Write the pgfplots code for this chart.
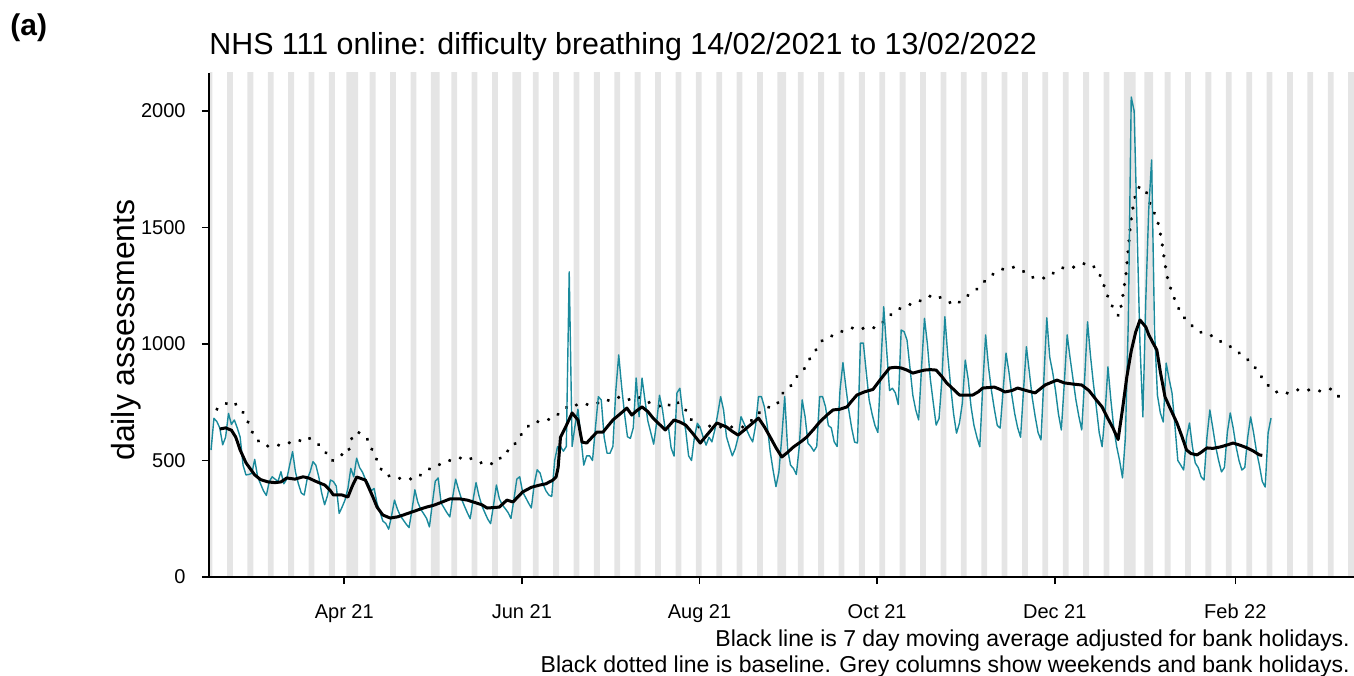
\documentclass[border=0pt]{standalone}
\usepackage{fontspec}
\setmainfont{Liberation Sans}
\usepackage{pgfplots}
\pgfplotsset{compat=1.18}

\definecolor{dailyteal}{HTML}{1A8A9C}
\definecolor{wkend}{HTML}{E5E5E5}

\begin{document}
\begin{tikzpicture}
\useasboundingbox (-104.5bp,-49.5bp) rectangle (572.5bp,288.5bp);
\begin{axis}[
    at={(0,0)}, anchor=south west,
    width=572.5bp, height=252bp, scale only axis,
    xmin=-0.7, xmax=392.5, ymin=0, ymax=2163,
    axis x line*=bottom, axis y line*=left,
    axis line style={-, line width=1bp, black},
    axis on top,
    tick align=outside, major tick length=3.5bp,
    tick style={black, line width=0.8bp},
    xtick={45.75,106.75,167.75,228.75,289.75,351.75},
    xticklabels={Apr 21,Jun 21,Aug 21,Oct 21,Dec 21,Feb 22},
    ytick={0,500,1000,1500,2000},
    yticklabels={0,500,1000,1500,2000},
    xticklabel style={font=\fontsize{10bp}{12bp}\selectfont, anchor=base, yshift=-17bp, inner sep=0pt},
    yticklabel style={font=\fontsize{10bp}{12bp}\selectfont, anchor=east, xshift=-8bp, inner sep=0pt},
    clip=true,
]
% weekends and bank holidays
\addplot[ybar, bar width=1, fill=wkend, draw=none] coordinates {
(0,2200)(6,2200)(7,2200)(13,2200)(14,2200)(20,2200)(21,2200)(27,2200)(28,2200)(34,2200)(35,2200)
(41,2200)(42,2200)(47,2200)(48,2200)(49,2200)(50,2200)(55,2200)(56,2200)(62,2200)(63,2200)
(69,2200)(70,2200)(76,2200)(77,2200)(78,2200)(83,2200)(84,2200)(90,2200)(91,2200)(97,2200)(98,2200)
(104,2200)(105,2200)(106,2200)(111,2200)(112,2200)(118,2200)(119,2200)(125,2200)(126,2200)
(132,2200)(133,2200)(139,2200)(140,2200)(146,2200)(147,2200)(153,2200)(154,2200)(160,2200)(161,2200)
(167,2200)(168,2200)(174,2200)(175,2200)(181,2200)(182,2200)(188,2200)(189,2200)(195,2200)(196,2200)
(197,2200)(202,2200)(203,2200)(209,2200)(210,2200)(216,2200)(217,2200)(223,2200)(224,2200)
(230,2200)(231,2200)(237,2200)(238,2200)(244,2200)(245,2200)(251,2200)(252,2200)(258,2200)(259,2200)
(265,2200)(266,2200)(272,2200)(273,2200)(279,2200)(280,2200)(286,2200)(287,2200)(293,2200)(294,2200)
(300,2200)(301,2200)(307,2200)(308,2200)(314,2200)(315,2200)(316,2200)(317,2200)(321,2200)(322,2200)
(323,2200)(328,2200)(329,2200)(335,2200)(336,2200)(342,2200)(343,2200)(349,2200)(350,2200)
(356,2200)(357,2200)(363,2200)(364,2200)(370,2200)(371,2200)(377,2200)(378,2200)(384,2200)(385,2200)
(391,2200)(392,2200)
};
% baseline
\addplot[black, line width=1.7bp, line cap=round, dash pattern=on 0.1bp off 5.4bp, mark=none] coordinates {
(2,720)(3,725)(6.5,755)(9,738)(11.7,695)(15,597)(18.5,562)(22,562)(26,575)(29.5,579)(33,601)
(36.4,575)(39,541)(41.5,498)(44.3,524)(47,528)(48.7,614)(51,620)(54,588)(55.6,536)(57.3,494)
(59,446)(62,429)(66,421)(70,421)(73.5,451)(76,472)(80,489)(83,506)(88,515)(91,498)(94.8,481)
(98.5,494)(100.6,536)(103,545)(105,584)(107,620)(110,661)(113.6,670)(117.4,680)(120.5,712)
(123.6,742)(127.4,734)(130.8,747)(134.6,747)(138,768)(141.5,773)(143.9,760)(146.6,773)(150,751)
(153,738)(156,725)(159.2,757)(162.4,730)(164.5,682)(166.9,644)(171,648)(174.8,644)(179,644)
(182.7,644)(185.8,674)(188.5,708)(192.3,734)(194.3,738)(196,785)(198.8,815)(201,858)(203.3,884)
(205.3,931)(207.7,974)(210,1017)(213.6,1037)(217.7,1060)(221.5,1073)(225,1064)(229,1073)
(231.8,1107)(234.9,1142)(239,1167)(242.4,1176)(245.5,1202)(249,1210)(252.4,1185)(255.8,1167)
(259,1202)(262,1223)(265,1262)(268,1296)(272,1322)(275.4,1330)(278.8,1313)(282.6,1283)
(286.7,1283)(289.8,1309)(293,1330)(296.7,1330)(300.5,1348)(304,1326)(306,1277)(307.3,1225)
(308.7,1180)(310.6,1137)(311.7,1120)(312.7,1172)(313.5,1240)(314.2,1300)(314.8,1380)(315.3,1450)
(315.8,1520)(316.4,1570)(317,1618)(318.3,1670)(319.5,1676)(320.5,1668)(321.5,1644)(323,1580)
(324.5,1550)(325.5,1506)(326.5,1440)(327.5,1350)(328.5,1280)(330,1220)(332,1159)(334,1116)
(337,1077)(340.3,1047)(344,1034)(347.5,1004)(351,983)(354.4,948)(357.5,918)(360,871)(362.6,828)
(364.8,798)(368.5,785)(373,803)(376.7,803)(380.5,798)(384.6,807)(387.4,773)
};
% daily assessments
\addplot[dailyteal, line width=0.7bp, line join=round, mark=none] coordinates {
(0,545)(1,681)(2,667)(3,640)(4,567)(5,600)(6,702)(7,655)(8,674)(9,640)
(10,600)(11,480)(12,438)(13,440)(14,445)(15,505)(16,430)(17,400)(18,370)(19,350)
(20,410)(21,430)(22,420)(23,410)(24,452)(25,400)(26,420)(27,480)(28,538)(29,450)
(30,400)(31,360)(32,352)(33,420)(34,450)(35,495)(36,480)(37,430)(38,360)(39,310)
(40,350)(41,416)(42,410)(43,390)(44,273)(45,300)(46,330)(47,380)(48,466)(49,430)
(50,510)(51,470)(52,450)(53,420)(54,400)(55,370)(56,380)(57,316)(58,280)(59,240)
(60,230)(61,205)(62,263)(63,330)(64,291)(65,263)(66,245)(67,227)(68,212)(69,287)
(70,374)(71,321)(72,291)(73,272)(74,252)(75,215)(76,316)(77,411)(78,425)(79,318)
(80,297)(81,276)(82,258)(83,345)(84,420)(85,375)(86,335)(87,305)(88,276)(89,250)
(90,332)(91,405)(92,349)(93,306)(94,277)(95,249)(96,229)(97,307)(98,395)(99,336)
(100,310)(101,294)(102,277)(103,251)(104,332)(105,420)(106,430)(107,365)(108,342)(109,318)
(110,296)(111,400)(112,460)(113,446)(114,400)(115,370)(116,352)(117,345)(118,500)(119,560)
(120,560)(121,540)(122,560)(123,1310)(124,560)(125,650)(126,720)(127,600)(128,480)(129,520)
(130,520)(131,500)(132,640)(133,774)(134,760)(135,600)(136,531)(137,531)(138,560)(139,800)
(140,953)(141,817)(142,700)(143,602)(144,595)(145,640)(146,854)(147,688)(148,854)(149,760)
(150,670)(151,620)(152,570)(153,660)(154,780)(155,720)(156,631)(157,650)(158,554)(159,519)
(160,790)(161,810)(162,700)(163,630)(164,520)(165,500)(166,600)(167,660)(168,640)(169,600)
(170,566)(171,600)(172,580)(173,631)(174,700)(175,774)(176,717)(177,602)(178,560)(179,520)
(180,550)(181,600)(182,688)(183,660)(184,630)(185,602)(186,580)(187,650)(188,774)(189,774)
(190,731)(191,650)(192,540)(193,459)(194,388)(195,450)(196,600)(197,774)(198,550)(199,480)
(200,466)(201,440)(202,560)(203,760)(204,688)(205,574)(206,560)(207,540)(208,560)(209,774)
(210,774)(211,731)(212,650)(213,640)(214,580)(215,560)(216,803)(217,920)(218,815)(219,717)
(220,639)(221,579)(222,575)(223,1004)(224,1004)(225,880)(226,760)(227,700)(228,650)(229,620)
(230,900)(231,1160)(232,975)(233,800)(234,810)(235,790)(236,740)(237,1060)(238,1053)(239,1017)
(240,900)(241,780)(242,717)(243,674)(244,900)(245,1110)(246,1000)(247,850)(248,750)(249,652)
(250,680)(251,850)(252,1117)(253,950)(254,817)(255,700)(256,617)(257,660)(258,746)(259,931)
(260,850)(261,730)(262,650)(263,600)(264,559)(265,817)(266,1039)(267,900)(268,800)(269,720)
(270,650)(271,639)(272,800)(273,961)(274,880)(275,780)(276,700)(277,640)(278,600)(279,800)
(280,988)(281,880)(282,770)(283,690)(284,620)(285,588)(286,850)(287,1112)(288,944)(289,880)
(290,800)(291,700)(292,631)(293,830)(294,1039)(295,940)(296,850)(297,760)(298,690)(299,631)
(300,850)(301,1095)(302,950)(303,830)(304,730)(305,620)(306,559)(307,700)(308,902)(309,760)
(310,640)(311,560)(312,500)(313,425)(314,600)(315,1100)(316,2060)(317,2000)(318,1500)(319,1000)
(320,687)(321,1190)(322,1575)(323,1790)(324,1060)(325,780)(326,704)(327,665)(328,918)(329,850)
(330,790)(331,650)(332,500)(333,480)(334,459)(335,600)(336,661)(337,560)(338,489)(339,470)
(340,430)(341,416)(342,600)(343,717)(344,640)(345,560)(346,500)(347,451)(348,470)(349,620)
(350,704)(351,640)(352,560)(353,500)(354,459)(355,470)(356,600)(357,687)(358,620)(359,540)
(360,480)(361,410)(362,386)(363,618)(364,682)
};
% 7 day moving average
\addplot[black, line width=1.5bp, line join=round, mark=none] coordinates {
(3,635)(5,640)(7,630)(8.5,600)(10,545)(12,490)(15,438)(17,418)(19.6,408)(22,405)(24,408)(26,425)
(28.8,420)(31.6,430)(33.5,425)(35.7,412)(38,400)(39,395)(41,370)(42,352)(45,352)(47,343)(48.5,390)
(50,429)(51,425)(53,416)(55.6,343)(57,300)(59,266)(61.5,253)(64,258)(66,266)(69,279)(72,292)
(74,300)(76.5,308)(78.6,318)(82,335)(85.5,335)(88,330)(90,322)(93,310)(94.8,296)(97,298)(99,300)
(101.6,330)(103.7,322)(107,365)(110,385)(113,395)(115,400)(117.4,416)(118.5,430)(119.2,470)
(120,600)(122,650)(124,704)(126,674)(127.4,579)(129,575)(132.5,622)(134.6,622)(138,674)
(140.5,700)(142.8,725)(144.5,695)(146,712)(148,730)(150,710)(151.8,682)(154,655)(156,631)
(159,674)(161,665)(163,652)(165.5,615)(168,575)(171,620)(173.7,661)(177,644)(179,625)(181,609)
(184.4,644)(188,682)(190,645)(192,601)(194,555)(196,515)(198,535)(200,558)(202.5,580)(204.6,601)
(207,635)(209,665)(211.5,695)(213.6,717)(216,720)(218.4,730)(220,755)(221.8,781)(224.5,795)
(227.3,805)(230,850)(233,897)(235,900)(237,897)(239,888)(241,875)(243,882)(245,888)(247,890)
(249,888)(251,860)(252.6,833)(255,805)(257,781)(259,781)(261.6,781)(263.5,795)(265,811)(267,813)
(269,815)(271,805)(272.6,794)(275,800)(277,811)(280,800)(283,790)(285,810)(286.4,824)(288.5,835)
(290.5,845)(293,833)(296,828)(299,824)(301.5,800)(304,760)(306,730)(307.7,687)(309.7,640)
(311.5,590)(313,720)(314.5,860)(316,970)(317.5,1050)(319,1103)(321,1073)(322,1040)(323.5,1004)
(324.8,974)(326,880)(327.6,773)(329.5,720)(331.7,661)(333.5,600)(335,545)(336.5,530)(338.6,524)
(340,535)(342,554)(344,552)(346.5,558)(348.5,565)(351,575)(353.5,565)(355.8,554)(358,540)
(360,524)(361,522)
};
\end{axis}
\node[anchor=west, font=\bfseries\fontsize{15bp}{18bp}\selectfont, inner sep=0pt] at (-99.5bp,274.5bp) {(a)};
\node[anchor=base west, font=\fontsize{15.2bp}{18bp}\selectfont, inner sep=0pt] at (0bp,261bp) {NHS 111 online: difficulty breathing 14/02/2021 to 13/02/2022};
\node[rotate=90, anchor=base, font=\fontsize{16bp}{19bp}\selectfont, inner sep=0pt] at (-37.5bp,123.5bp) {daily assessments};
\node[anchor=base east, font=\fontsize{11.5bp}{13.5bp}\selectfont, inner sep=0pt] at (570.5bp,-34.5bp) {Black line is 7 day moving average adjusted for bank holidays.};
\node[anchor=base east, font=\fontsize{11.5bp}{13.5bp}\selectfont, inner sep=0pt] at (570.5bp,-47.5bp) {Black dotted line is baseline. Grey columns show weekends and bank holidays.};
\end{tikzpicture}
\end{document}
